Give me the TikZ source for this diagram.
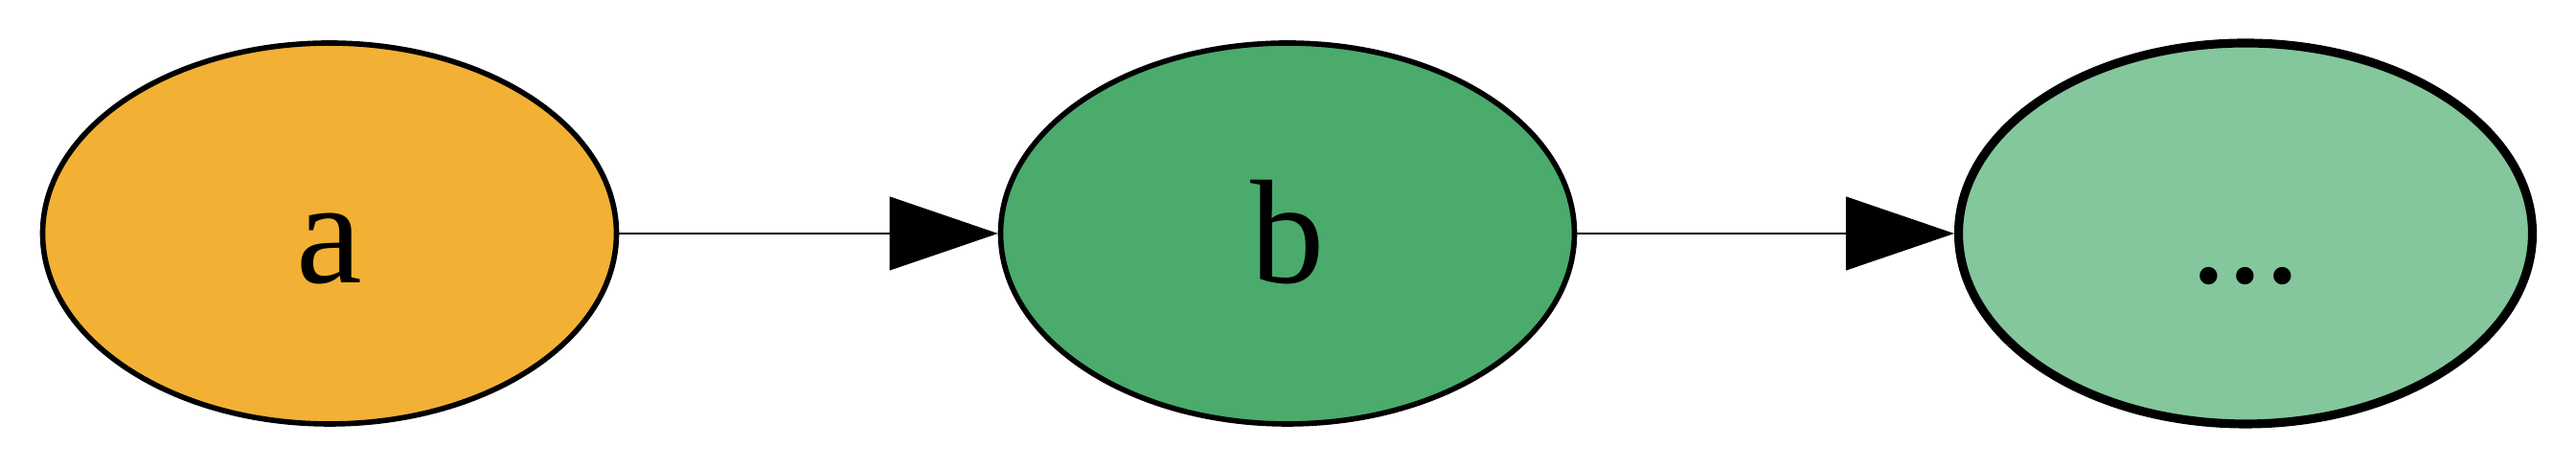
\documentclass[tikz,border=0pt]{standalone}
\usepackage{fontspec}
\setmainfont{Liberation Serif}
\usetikzlibrary{arrows.meta, shapes.geometric}
\definecolor{firstfill}{HTML}{F2B134}
\definecolor{secondfill}{HTML}{4AAB6D}
\definecolor{restfill}{HTML}{84C79C}
\definecolor{darkline}{HTML}{000000}
\tikzset{
  state/.style={
    ellipse,
    draw=darkline,
    line width=1.6pt,
    minimum width=5.99cm,
    minimum height=3.98cm,
    inner sep=0pt,
    text height=1.04cm,
    text depth=0pt,
    font=\fontsize{44}{50}\selectfont
  },
  first/.style={
    state,
    fill=firstfill
  },
  second/.style={
    state,
    fill=secondfill
  },
  rest/.style={
    state,
    fill=restfill,
    line width=2.6pt
  },
  flow/.style={
    -{Triangle[length=1.13cm, width=0.77cm]},
    line width=0.3pt,
    draw=darkline
  }
}
\begin{document}
\begin{tikzpicture}

% Fixed frame, same proportions as the reference.
\useasboundingbox (0,0) rectangle (26.89,4.89);

% Nodes.
\node[first] (a) at (3.44, 2.45) {a};
\node[second] (b) at (13.44, 2.45) {b};
\node[rest] (more) at (23.44, 2.45) {...};

% Flows.
\draw[flow] (a.east) -- (b.west);
\draw[flow] (b.east) -- (more.west);

\end{tikzpicture}
\end{document}
